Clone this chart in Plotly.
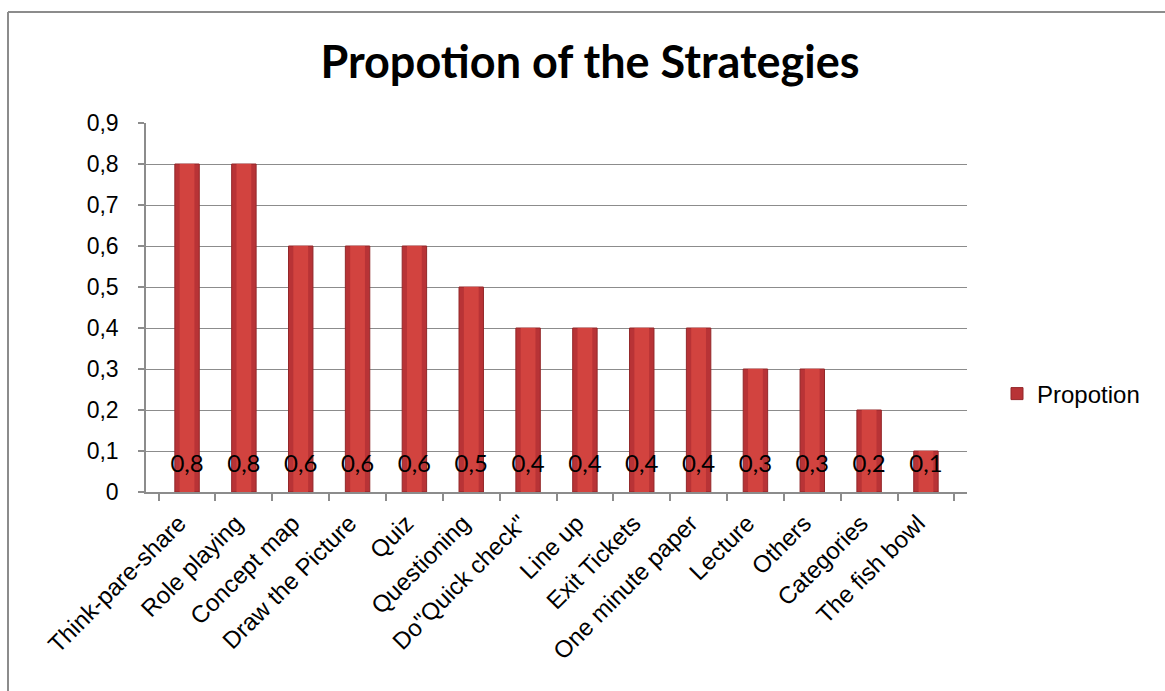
import plotly.graph_objects as go

# Strategy proportions
strategies = [
    "Think-pare-share", "Role playing", "Concept map", "Draw the Picture",
    "Quiz", "Questioning", "Do\"Quick check\"", "Line up", "Exit Tickets",
    "One minute paper", "Lecture", "Others", "Categories", "The fish bowl",
]
proportion = [0.8, 0.8, 0.6, 0.6, 0.6, 0.5, 0.4, 0.4, 0.4, 0.4, 0.3, 0.3, 0.2, 0.1]
y_ticks = [0, 0.1, 0.2, 0.3, 0.4, 0.5, 0.6, 0.7, 0.8, 0.9]

W, H = 1165, 691
L, R, T, B = 146, 198, 123, 199
pw, ph = W - L - R, H - T - B

def px_x(x):
    return (x - L) / pw

def px_y(y):
    return (H - B - y) / ph

def comma(v):
    return "0" if v == 0 else f"{v:.1f}".replace(".", ",")

label_text = [comma(v) for v in proportion]

fig = go.Figure()

# Outer bar body
fig.add_trace(go.Bar(
    x=strategies, y=proportion, name="Propotion",
    width=0.43,
    marker=dict(color="#B83336", line=dict(color="#932729", width=1)),
    hoverinfo="x+y",
))
# Lighter core for a rounded look
fig.add_trace(go.Bar(
    x=strategies, y=proportion, showlegend=False,
    width=0.26,
    marker=dict(color="#D2433F", line=dict(width=0)),
    hoverinfo="skip",
))
# Value labels near the base of each bar
fig.add_trace(go.Scatter(
    x=strategies, y=[0.063] * len(strategies), mode="text",
    text=label_text, showlegend=False, hoverinfo="skip",
    textfont=dict(family="Lato, Liberation Sans, sans-serif", size=24, color="#000000"),
))

fig.update_layout(
    width=W, height=H,
    margin=dict(l=L, r=R, t=T, b=B),
    paper_bgcolor="white", plot_bgcolor="white",
    barmode="overlay",
    separators=", ",
    title=dict(
        text="<b>Propotion of the Strategies</b>",
        x=590 / W, xref="container", xanchor="center",
        y=1 - 62 / H, yref="container", yanchor="middle",
        font=dict(family="Lato, Liberation Sans, sans-serif", size=45, color="#000000"),
    ),
    font=dict(family="Liberation Sans, Arial, sans-serif", color="#000000"),
    legend=dict(
        x=px_x(997), y=px_y(394), xanchor="left", yanchor="middle",
        font=dict(size=24), bgcolor="rgba(0,0,0,0)",
    ),
    xaxis=dict(
        type="category", tickangle=-45, tickson="boundaries",
        ticks="outside", ticklen=7, tickcolor="#8C8C8C", tickwidth=1.5,
        ticklabelshift=-8, ticklabelstandoff=6,
        showline=True, linecolor="#8C8C8C", linewidth=1.5,
        showgrid=False, tickfont=dict(size=24),
    ),
    yaxis=dict(
        range=[0, 0.9], tickmode="array", tickvals=y_ticks,
        ticktext=[comma(v) for v in y_ticks],
        ticks="outside", ticklen=6, tickcolor="#8C8C8C", tickwidth=1.5,
        ticklabelstandoff=15,
        showline=True, linecolor="#8C8C8C", linewidth=1.5,
        showgrid=True, gridcolor="#8C8C8C", gridwidth=1.2,
        zeroline=False, tickfont=dict(size=23),
    ),
    shapes=[
        dict(type="line", xref="paper", yref="paper",
             x0=px_x(8), x1=px_x(8), y0=px_y(12), y1=px_y(H + 10),
             line=dict(color="#8C8C8C", width=2)),
        dict(type="line", xref="paper", yref="paper",
             x0=px_x(8), x1=px_x(W + 10), y0=px_y(12), y1=px_y(12),
             line=dict(color="#8C8C8C", width=2)),
    ],
)

fig.write_html("out.html")
